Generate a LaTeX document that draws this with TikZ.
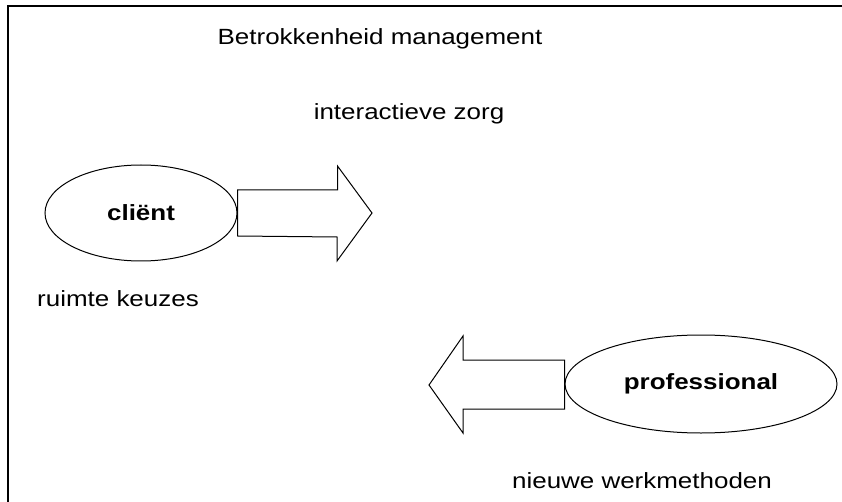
\documentclass[tikz,border=0pt]{standalone}
\usepackage{fontspec}
\setmainfont{Liberation Sans}[FakeStretch=1.18]
\usetikzlibrary{shapes.geometric, calc}

\tikzset{
  actor/.style={draw, ellipse, line width=1pt, inner sep=0pt, font=\fontsize{22}{26}\selectfont\bfseries},
  label/.style={font=\fontsize{22}{26}\selectfont, inner sep=0pt, anchor=base},
  bigarrow/.style={draw, line width=1pt, fill=white}
}

\begin{document}
\begin{tikzpicture}[x=1pt, y=-1pt]
  \useasboundingbox (0,0) rectangle (842,502);

  % Frame (open to the right and the bottom)
  \draw[line width=1.3pt] (8,502) -- (8,6) -- (842,6);

  % Texts
  \node[label] (betr) at (380,45) {Betrokkenheid management};
  \node[label] (inter) at (409,120) {interactieve zorg};
  \node[label, anchor=base west] (ruimte) at (37,306) {ruimte keuzes};
  \node[label] (nieuw) at (642,488) {nieuwe werkmethoden};

  % Actors
  \node[actor, minimum width=192pt, minimum height=96pt] (client) at (141,213) {cliënt};
  \node[actor, minimum width=272pt, minimum height=98pt] (prof) at (701,384) {professional};

  % Arrow from client
  \draw[bigarrow] (client.east) ++(0,-23) -- ++(100,0) -- ++(0,-24) -- (372,213)
        -- (337,261) -- ++(0,-24) -- (client.east |- 0,236) -- cycle;

  % Arrow from professional
  \draw[bigarrow] (prof.west) ++(0,-24) -- (463,360) -- (463,336) -- (429,385)
        -- (463,433) -- (463,409) -- (prof.west |- 0,409) -- cycle;
\end{tikzpicture}
\end{document}
